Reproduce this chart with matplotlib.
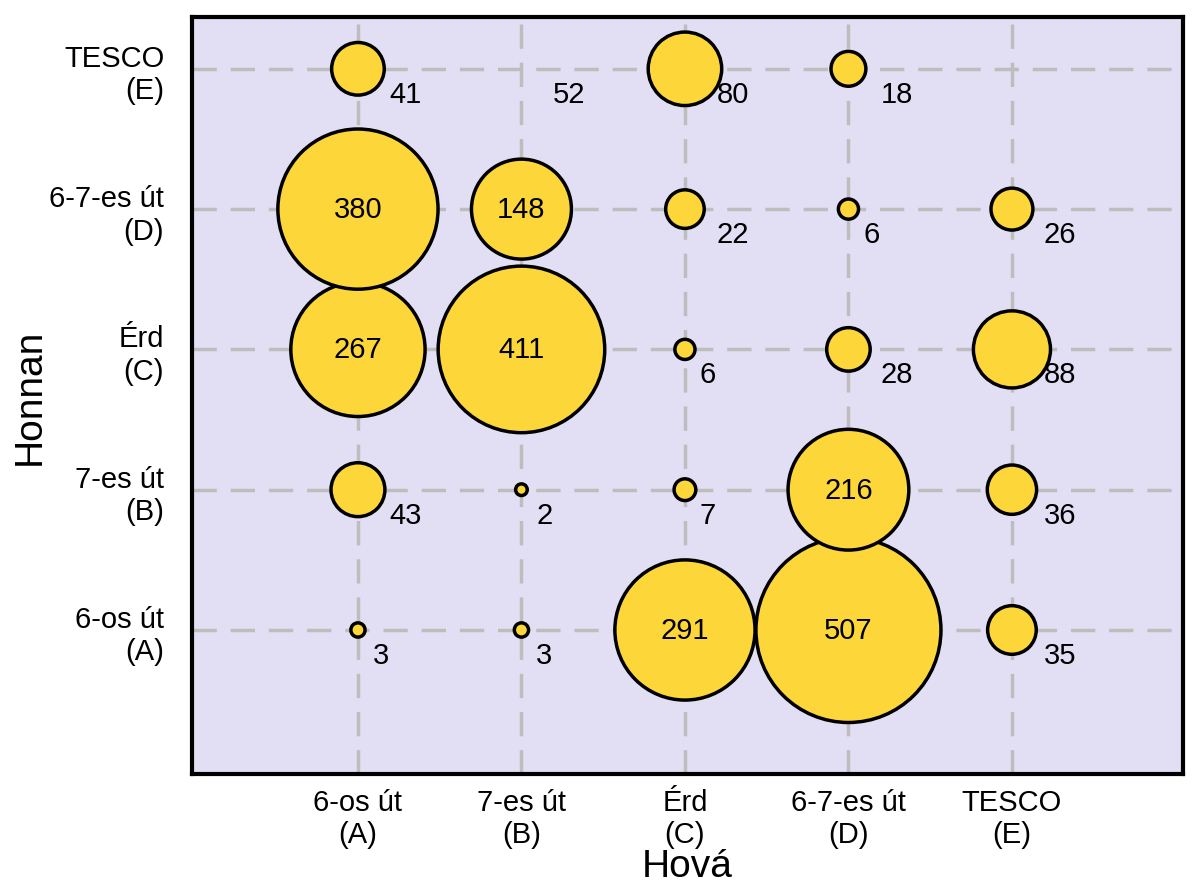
import numpy as np
import matplotlib
matplotlib.use('Agg')
from matplotlib import pyplot as plt

plt.rcParams['font.family'] = ['Liberation Sans', 'DejaVu Sans']

# categories (same order on both axes)
places = ['6-os út\n(A)', '7-es út\n(B)', 'Érd\n(C)', '6-7-es út\n(D)', 'TESCO\n(E)']

# rows: Honnan (from), columns: Hová (to); None = no value
from_A = [3, 3, 291, 507, 35]
from_B = [43, 2, 7, 216, 36]
from_C = [267, 411, 6, 28, 88]
from_D = [380, 148, 22, 6, 26]
from_E = [41, 52, 80, 18, None]
rows = [from_A, from_B, from_C, from_D, from_E]

# cells whose bubble is not drawn in the original (label only)
no_bubble = [(4, 1)]

bg_color = '#e2dff4'
bubble_color = '#fdd63a'

fig = plt.figure(figsize=(12, 8.95), dpi=100)
ax = fig.add_axes([0.16, 0.134, 0.8258, 0.846])
ax.set_facecolor(bg_color)

xs, ys, vs = [], [], []
for r, row in enumerate(rows):
    for c, v in enumerate(row):
        if v is None:
            continue
        if (r, c) not in no_bubble:
            xs.append(c + 1)
            ys.append(r + 1)
            vs.append(v)
        if v >= 100:
            ax.text(c + 1, r + 1, str(v), ha='center', va='center',
                    fontsize=21, zorder=4)
        else:
            n = len(str(v))
            dx = (25 * n - 2) * 0.72
            ax.annotate(str(v), (c + 1, r + 1), xytext=(dx, -18),
                        textcoords='offset points', ha='center', va='center',
                        fontsize=21, zorder=4)

ax.scatter(xs, ys, s=np.array(vs) * 35, color=bubble_color,
           edgecolor='black', linewidth=2.5, zorder=3)

ax.set_xlim(-0.015, 6.046)
ax.set_ylim(-0.027, 5.37)
ax.set_xticks(range(1, 6))
ax.set_xticklabels(places, fontsize=21)
ax.set_yticks(range(1, 6))
ax.set_yticklabels(places, fontsize=21)
ax.tick_params(axis='x', length=0, pad=10)
ax.tick_params(axis='y', length=0, pad=20)

ax.grid(True, color='#bdbdbd', linewidth=2.5, linestyle=(0, (7, 4)), zorder=1)
ax.set_axisbelow(True)
for sp in ax.spines.values():
    sp.set_linewidth(3)
    sp.set_color('black')

ax.set_xlabel('Hová', fontsize=28, labelpad=0)
ax.set_ylabel('Honnan', fontsize=28, labelpad=1)

fig.savefig('out.png', dpi=100)
